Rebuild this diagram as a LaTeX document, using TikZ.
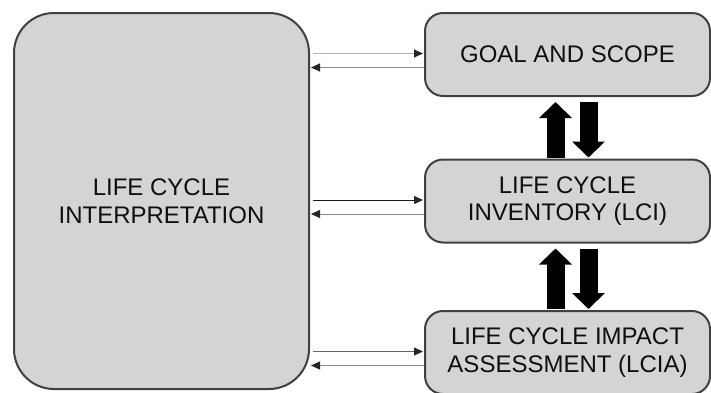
\documentclass[tikz,border=0pt]{standalone}
\usepackage{fontspec}
\setmainfont{Liberation Sans}
\usetikzlibrary{arrows.meta,calc}
\definecolor{lcagray}{RGB}{212,212,212}
\definecolor{lcaedge}{RGB}{64,64,64}
\definecolor{lcatext}{RGB}{15,15,15}
\tikzset{
  phasebox/.style={rectangle,draw=lcaedge,fill=lcagray,line width=2pt,
    rounded corners=18pt,minimum width=285pt,minimum height=83pt,
    inner sep=0pt,align=center,text=lcatext,
    font=\fontsize{24}{27.5}\selectfont},
  bigbox/.style={phasebox,rounded corners=40pt,
    minimum width=295pt,minimum height=376pt},
  fwdarrow/.style={-{Triangle[length=9pt,width=8pt,color=black!85]},line width=1pt},
  backarrow/.style={-{Triangle[length=9pt,width=8pt,color=black!85]},line width=1pt,
    draw=black!45},
  blockarrow/.style={-{Triangle[length=16pt,width=32pt]},line width=18pt,black}
}

\begin{document}
\begin{tikzpicture}[x=1pt,y=-1pt]
  \useasboundingbox (0,0) rectangle (711,392);

  \node[bigbox]   (interp) at (161.5,201)  {LIFE CYCLE\\INTERPRETATION};
  \node[phasebox] (goal)   at (567.5,54.5) {GOAL AND SCOPE};
  \node[phasebox] (lci)    at (567.5,201)  {LIFE CYCLE\\INVENTORY (LCI)};
  \node[phasebox] (lcia)   at (567.5,352.5) {LIFE CYCLE IMPACT\\ASSESSMENT (LCIA)};

  % Interpretation <-> phases
  \foreach \p/\shade in {goal/30,lci/90,lcia/60}{
    \draw[fwdarrow,draw=black!\shade] ($(interp.east |- \p.west)+(3,-1)$) -- ($(\p.west)+(-1,-1)$);
    \draw[backarrow] ($(\p.west)+(0,13)$) -- ($(interp.east |- \p.west)+(1,13)$);
  }

  % Block arrows between phases
  \foreach \a/\b in {goal/lci,lci/lcia}{
    \draw[blockarrow,shorten <=1pt,shorten >=5pt] ($(\b.north)+(-12,0)$) -- ($(\a.south)+(-12,0)$);
    \draw[blockarrow,shorten <=5pt,shorten >=1pt] ($(\a.south)+(21,0)$) -- ($(\b.north)+(21,0)$);
  }
\end{tikzpicture}
\end{document}
